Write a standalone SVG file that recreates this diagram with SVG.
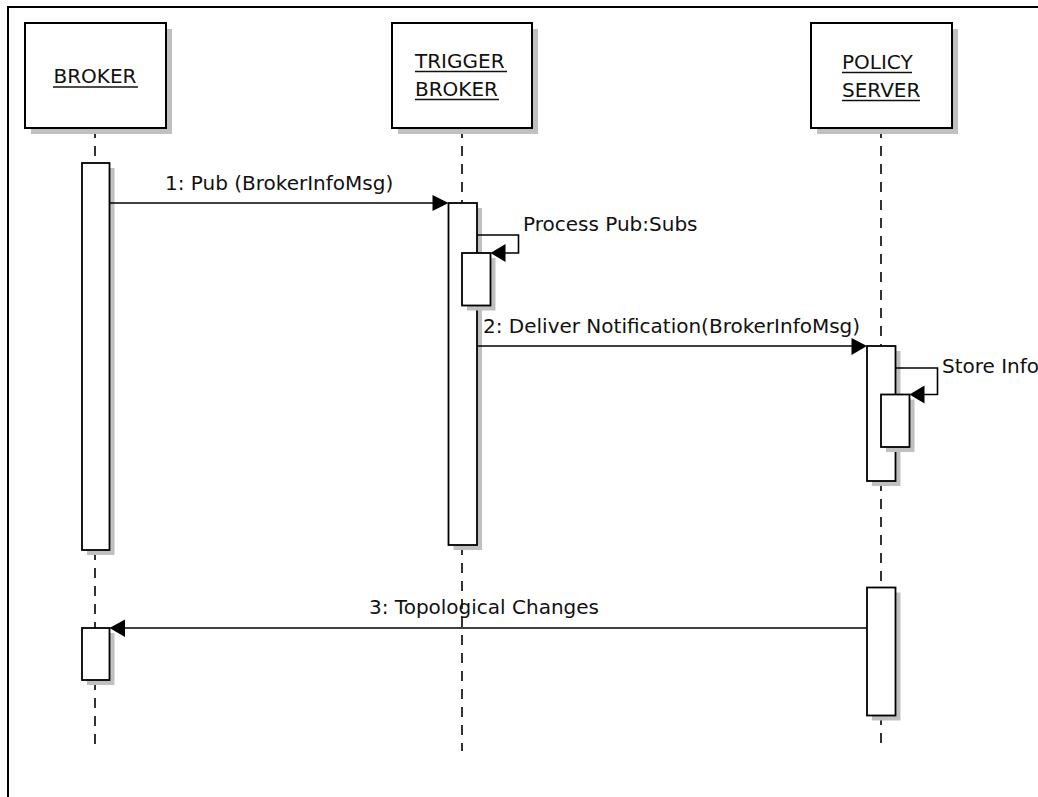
<svg xmlns="http://www.w3.org/2000/svg" width="1038" height="797" viewBox="0 0 1038 797">
<style>
.frame{fill:none;stroke:#000;stroke-width:2}
.box{fill:#fff;stroke:#000;stroke-width:2}
.act{fill:#fff;stroke:#000;stroke-width:1.8}
.sh{fill:#c0c0c0}
.life{stroke:#000;stroke-width:1.6;stroke-dasharray:10 8;fill:none}
.msg{stroke:#000;stroke-width:1.6;fill:none}
.head{fill:#000}
.t{font-family:"DejaVu Sans","Liberation Sans",sans-serif;font-size:20px;fill:#111}
.ul{stroke:#111;stroke-width:1.4}
</style>
<rect width="1038" height="797" fill="#fff"/>
<rect class="frame" x="8" y="7" width="1060" height="820"/>

<g id="lifelines">
<line class="life" x1="95" y1="128" x2="95" y2="163"/>
<line class="life" x1="95" y1="550" x2="95" y2="628"/>
<line class="life" x1="95" y1="680" x2="95" y2="751"/>
<line class="life" x1="462" y1="128" x2="462" y2="203"/>
<line class="life" x1="462" y1="545" x2="462" y2="751"/>
<line class="life" x1="881" y1="128" x2="881" y2="346"/>
<line class="life" x1="881" y1="481" x2="881" y2="587"/>
<line class="life" x1="881" y1="715" x2="881" y2="751"/>
</g>

<g id="broker">
<rect class="sh" x="31" y="29" width="141" height="105"/>
<rect class="box" x="25" y="23" width="141" height="105"/>
<text class="t" x="95" y="83" text-anchor="middle">BROKER</text>
<line class="ul" x1="53" y1="87" x2="138" y2="87"/>
</g>

<g id="trigger-broker">
<rect class="sh" x="398" y="29" width="140" height="105"/>
<rect class="box" x="392" y="23" width="140" height="105"/>
<text class="t" x="415" y="68">TRIGGER</text>
<line class="ul" x1="415" y1="71.5" x2="507" y2="71.5"/>
<text class="t" x="415" y="96">BROKER</text>
<line class="ul" x1="415" y1="99.5" x2="499" y2="99.5"/>
</g>

<g id="policy-server">
<rect class="sh" x="817" y="29" width="141" height="105"/>
<rect class="box" x="811" y="23" width="141" height="105"/>
<text class="t" x="842" y="69">POLICY</text>
<line class="ul" x1="842" y1="72.5" x2="912" y2="72.5"/>
<text class="t" x="842" y="97">SERVER</text>
<line class="ul" x1="842" y1="100.5" x2="920" y2="100.5"/>
</g>

<g id="broker-activation-1">
<rect class="sh" x="87" y="168" width="27.5" height="387"/>
<rect class="act" x="82" y="163" width="27.5" height="387"/>
</g>
<g id="broker-activation-2">
<rect class="sh" x="87" y="633" width="27.5" height="52"/>
<rect class="act" x="82" y="628" width="27.5" height="52"/>
</g>
<g id="trigger-activation-1">
<rect class="sh" x="453.5" y="208" width="28.5" height="342"/>
<rect class="act" x="448.5" y="203" width="28.5" height="342"/>
</g>
<g id="trigger-activation-2">
<rect class="sh" x="467" y="258" width="28.5" height="52.5"/>
<rect class="act" x="462" y="253" width="28.5" height="52.5"/>
</g>
<g id="policy-activation-1">
<rect class="sh" x="872" y="351" width="28.5" height="135"/>
<rect class="act" x="867" y="346" width="28.5" height="135"/>
</g>
<g id="policy-activation-2">
<rect class="sh" x="886" y="399.5" width="28.5" height="52.5"/>
<rect class="act" x="881" y="394.5" width="28.5" height="52.5"/>
</g>
<g id="policy-activation-3">
<rect class="sh" x="872" y="592.5" width="28.5" height="128"/>
<rect class="act" x="867" y="587.5" width="28.5" height="128"/>
</g>

<g id="connectors">
<line class="msg" x1="109.5" y1="203" x2="436" y2="203"/>
<polygon class="head" points="448.5,203 432.5,195 432.5,211"/>
<text class="t" x="165" y="190">1: Pub (BrokerInfoMsg)</text>

<polyline class="msg" points="477,235 518.5,235 518.5,253 502,253"/>
<polygon class="head" points="490.5,253 505.5,244 505.5,262"/>
<text class="t" x="523" y="231">Process Pub:Subs</text>

<line class="msg" x1="477" y1="346" x2="855" y2="346"/>
<polygon class="head" points="867,346 851.5,338 851.5,355"/>
<text class="t" x="483" y="333">2: Deliver Notification(BrokerInfoMsg)</text>

<polyline class="msg" points="895.5,368 937.5,368 937.5,394.5 921,394.5"/>
<polygon class="head" points="909.5,394.5 924.5,385.5 924.5,403.5"/>
<text class="t" x="942" y="373">Store Info</text>

<line class="msg" x1="867" y1="628" x2="121" y2="628"/>
<polygon class="head" points="109.5,628 125,619.5 125,637"/>
<text class="t" x="369" y="614">3: Topological Changes</text>
</g>
</svg>
